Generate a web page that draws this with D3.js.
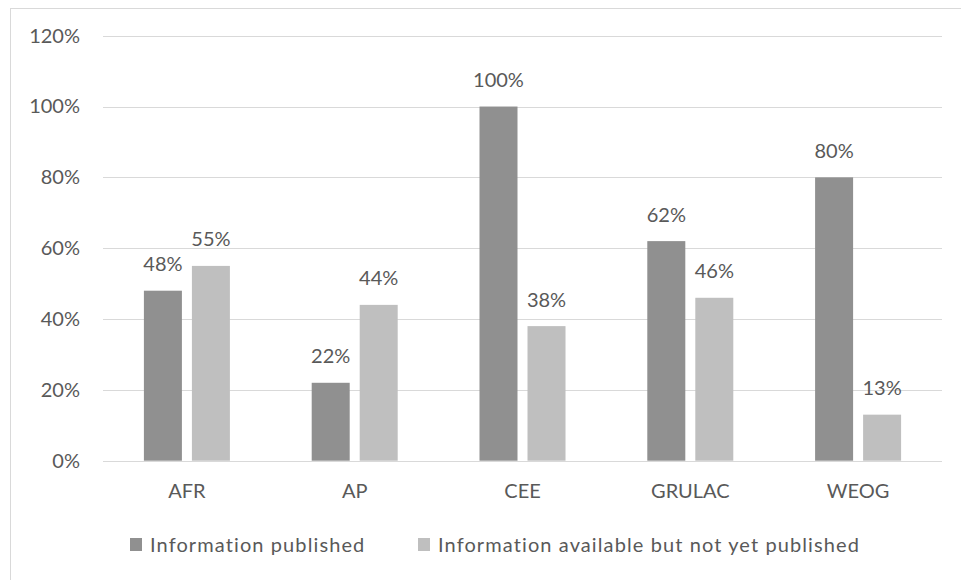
<!DOCTYPE html>
<html>
<head>
<meta charset="utf-8">
<script src="https://cdn.jsdelivr.net/npm/d3@7"></script>
<style>
  html, body { margin: 0; padding: 0; background: #fff; }
  svg { display: block; }
  text { font-family: Lato, "Liberation Sans", sans-serif; fill: #595959; }
</style>
</head>
<body>
<svg id="chart" width="961" height="580"></svg>
<script>
// Regional groups and the two reporting series (shares, 0–1)
const categories = ["AFR", "AP", "CEE", "GRULAC", "WEOG"];
const seriesNames = ["Information published", "Information available but not yet published"];
const published = [0.48, 0.22, 1.00, 0.62, 0.80];
const availableNotPublished = [0.55, 0.44, 0.38, 0.46, 0.13];
const yTicks = [0, 0.2, 0.4, 0.6, 0.8, 1.0, 1.2];
const seriesColors = ["#909090", "#bfbfbf"];

const svg = d3.select("#chart");
const W = 961, H = 580;
const plot = { left: 103, right: 942, top: 35.7, bottom: 460.7 };

// Outer chart frame
svg.append("rect")
  .attr("x", 10.5).attr("y", 8.5)
  .attr("width", W + 10).attr("height", H + 10)
  .attr("fill", "none").attr("stroke", "#d9d9d9").attr("stroke-width", 1);

const y = d3.scaleLinear().domain([0, 1.2]).range([plot.bottom, plot.top]);
const x = d3.scaleBand().domain(categories).range([plot.left, plot.right]).paddingInner(0).paddingOuter(0);
const x1 = d3.scaleBand().domain(seriesNames).range([0, x.bandwidth()])
  .paddingInner(10 / 48).paddingOuter(0.852);

// Horizontal gridlines
svg.append("g")
  .selectAll("line")
  .data(yTicks)
  .join("line")
  .attr("x1", plot.left).attr("x2", plot.right)
  .attr("y1", d => Math.round(y(d)) + 0.5).attr("y2", d => Math.round(y(d)) + 0.5)
  .attr("stroke", "#d9d9d9").attr("stroke-width", 1);

// Y axis labels
const yAxis = d3.axisLeft(y).tickValues(yTicks).tickFormat(d3.format(".0%")).tickSize(0).tickPadding(0);
const gy = svg.append("g").attr("transform", `translate(80,0)`).call(yAxis);
gy.select(".domain").remove();
gy.selectAll("text").style("font-size", "20px").attr("fill", "#595959")
  .style("font-family", "Lato, 'Liberation Sans', sans-serif");

// X axis labels
const xAxis = d3.axisBottom(x).tickSize(0).tickPadding(0);
const gx = svg.append("g").attr("transform", `translate(0,${plot.bottom + 23})`).call(xAxis);
gx.select(".domain").remove();
gx.selectAll("text").style("font-size", "20px").attr("fill", "#595959")
  .style("font-family", "Lato, 'Liberation Sans', sans-serif");

const seriesValues = [published, availableNotPublished];
const rows = categories.map((c, i) => seriesNames.map((s, j) => ({
  cat: c, series: s, value: seriesValues[j][i], color: seriesColors[j]
})));

const groups = svg.append("g").selectAll("g")
  .data(rows)
  .join("g")
  .attr("transform", d => `translate(${x(d[0].cat)},0)`);

groups.selectAll("rect")
  .data(d => d)
  .join("rect")
  .attr("x", d => x1(d.series))
  .attr("width", x1.bandwidth())
  .attr("y", d => y(d.value))
  .attr("height", d => y(0) - y(d.value))
  .attr("fill", d => d.color);

groups.selectAll("text")
  .data(d => d)
  .join("text")
  .attr("x", d => x1(d.series) + x1.bandwidth() / 2)
  .attr("y", d => y(d.value) - 19.5)
  .attr("text-anchor", "middle")
  .style("font-size", "20px")
  .text(d => d3.format(".0%")(d.value));

// Legend
const legendX = [130, 418];
const legend = svg.append("g").selectAll("g")
  .data(seriesNames)
  .join("g")
  .attr("transform", (d, i) => `translate(${legendX[i]},538)`);
legend.append("rect")
  .attr("width", 12).attr("height", 13)
  .attr("fill", (d, i) => seriesColors[i]);
legend.append("text")
  .attr("x", 20).attr("y", 14)
  .style("font-size", "20px")
  .style("letter-spacing", "1.1px")
  .text(d => d);
</script>
</body>
</html>
